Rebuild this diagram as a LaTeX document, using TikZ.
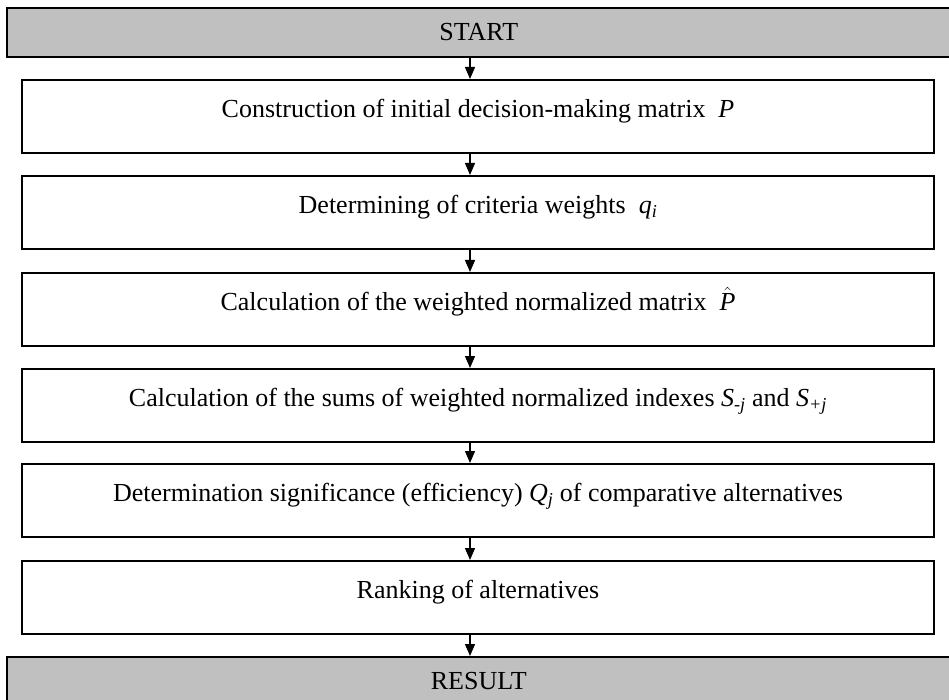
\documentclass[tikz,border=0pt]{standalone}
\usepackage{fontspec}
\setmainfont{Liberation Serif}
\usetikzlibrary{arrows.meta}
\definecolor{barfill}{RGB}{192,192,192}

\begin{document}
\begin{tikzpicture}[x=1pt,y=-1pt,
  every node/.style={font=\fontsize{26}{31}\selectfont},
  stepbox/.style={draw=black, line width=1.6pt, minimum width=912pt,
    minimum height=73pt, inner sep=0pt, text height=18pt, text depth=15pt,
    anchor=north},
  endbar/.style={draw=black, fill=barfill, line width=1.6pt, text width=944pt,
    align=center, inner xsep=0pt, inner ysep=0pt, minimum height=49pt,
    anchor=north west},
  flow/.style={-{Triangle[length=12pt,width=10pt]}, line width=1.3pt},
]
\useasboundingbox (0,0) rectangle (949,700);

% vertical line of the connectors
\coordinate (ax) at (470,0);

\node[endbar] (start) at (6,7) {START};
\node[stepbox] (s1) at (478,79) {Construction of initial decision-making matrix\enspace\textit{P}};
\node[stepbox] (s2) at (478,175) {Determining of criteria weights\enspace\textit{q}\textsubscript{\textit{i}}};
\node[stepbox] (s3) at (478,272) {Calculation of the weighted normalized matrix\enspace$\hat{\mbox{\itshape P}}$};
\node[stepbox] (s4) at (478,368) {Calculation of the sums of weighted normalized indexes \textit{S}\textsubscript{\textit{-j}} and \textit{S}\textsubscript{\textit{+j}}};
\node[stepbox] (s5) at (478,463) {Determination significance (efficiency) \textit{Q}\textsubscript{\textit{j}} of comparative alternatives};
\node[stepbox] (s6) at (478,560) {Ranking of alternatives};
\node[endbar] (result) at (6,656) {RESULT};

\draw[flow] (start.south -| ax) -- (s1.north -| ax);
\draw[flow] (s1.south -| ax) -- (s2.north -| ax);
\draw[flow] (s2.south -| ax) -- (s3.north -| ax);
\draw[flow] (s3.south -| ax) -- (s4.north -| ax);
\draw[flow] (s4.south -| ax) -- (s5.north -| ax);
\draw[flow] (s5.south -| ax) -- (s6.north -| ax);
\draw[flow] (s6.south -| ax) -- (result.north -| ax);
\end{tikzpicture}
\end{document}
